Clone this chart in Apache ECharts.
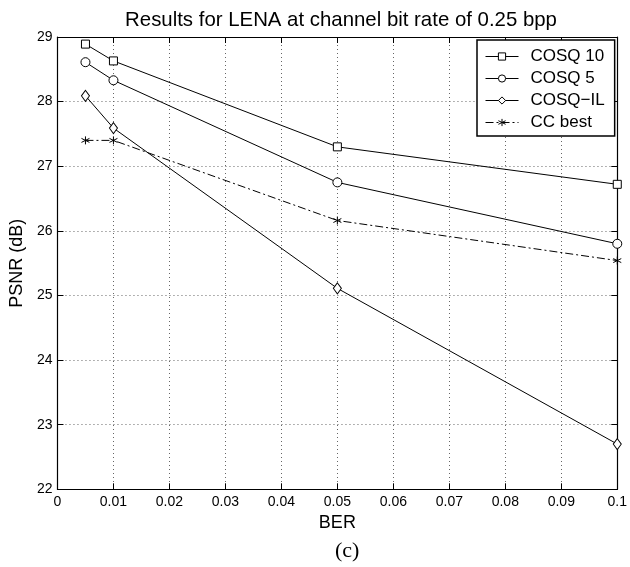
<!DOCTYPE html>
<html>
<head>
<meta charset="utf-8">
<script src="https://cdn.jsdelivr.net/npm/echarts@6/dist/echarts.min.js"></script>
<style>html,body{margin:0;padding:0;background:#fff;}#c{width:630px;height:567px;}</style>
</head>
<body>
<div id="c"></div>
<script>
var titleText = 'Results for LENA at channel bit rate of 0.25 bpp';
var xName = 'BER';
var yName = 'PSNR (dB)';
var caption = '(c)';
var ber = [0.005, 0.01, 0.05, 0.1];
var cosq10 = [28.89, 28.63, 27.30, 26.72];
var cosq5 = [28.61, 28.33, 26.75, 25.80];
var cosqIL = [28.09, 27.59, 25.11, 22.70];
var ccBest = [27.40, 27.40, 26.16, 25.54];
var seriesNames = ['COSQ 10', 'COSQ 5', 'COSQ\u2212IL', 'CC best'];
var xTickLabels = ['0', '0.01', '0.02', '0.03', '0.04', '0.05', '0.06', '0.07', '0.08', '0.09', '0.1'];
var yTickLabels = ['22', '23', '24', '25', '26', '27', '28', '29'];

function pairs(ys) { return ber.map(function (x, i) { return [x, ys[i]]; }); }

var FONT = 'Liberation Sans';
var star = 'path://M0,-5L0,5M-4.33,-2.5L4.33,2.5M-4.33,2.5L4.33,-2.5';

var chart = echarts.init(document.getElementById('c'), null, { renderer: 'canvas' });

function xAxisBase(pos, show) {
  return {
    type: 'value', position: pos, min: 0, max: 0.1, interval: 0.01,
    axisLine: { show: true, onZero: false, lineStyle: { color: '#000', width: 1.2 } },
    axisTick: { show: true, inside: true, length: 6, lineStyle: { color: '#000', width: 1 } },
    axisLabel: {
      show: show, color: '#000', fontFamily: FONT, fontSize: 14, margin: 6,
      formatter: function (v) { return xTickLabels[Math.round(v / 0.01)]; }
    },
    splitLine: { show: show, lineStyle: { color: '#666', type: [1, 3], width: 1 } }
  };
}
function yAxisBase(pos, show) {
  return {
    type: 'value', position: pos, min: 22, max: 29, interval: 1,
    axisLine: { show: true, onZero: false, lineStyle: { color: '#000', width: 1.2 } },
    axisTick: { show: true, inside: true, length: 6, lineStyle: { color: '#000', width: 1 } },
    axisLabel: {
      show: show, color: '#000', fontFamily: FONT, fontSize: 14, margin: 5,
      formatter: function (v) { return yTickLabels[Math.round(v - 22)]; }
    },
    splitLine: { show: show, lineStyle: { color: '#666', type: [1, 3], width: 1 } }
  };
}

var xa = xAxisBase('bottom', true);
xa.name = xName; xa.nameLocation = 'middle'; xa.nameGap = 20;
xa.nameTextStyle = { color: '#000', fontFamily: FONT, fontSize: 18 };
var xb = xAxisBase('top', false);
var ya = yAxisBase('left', true);
ya.name = yName; ya.nameLocation = 'middle'; ya.nameGap = 21;
ya.nameTextStyle = { color: '#000', fontFamily: FONT, fontSize: 18 };
var yb = yAxisBase('right', false);

function mk(name, ys, symbol, size, dash) {
  var isStar = symbol === star;
  return {
    name: name, type: 'line', data: pairs(ys), xAxisIndex: 0, yAxisIndex: 0,
    symbol: symbol, symbolSize: size, showSymbol: true, clip: true,
    lineStyle: { color: '#000', width: 1, type: dash || 'solid' },
    itemStyle: { color: isStar ? '#000' : '#fff', borderColor: '#000', borderWidth: 1 },
    emphasis: { disabled: true }, animation: false
  };
}

chart.setOption({
  animation: false,
  backgroundColor: '#fff',
  title: {
    text: titleText, left: 336, top: 5, textAlign: 'center',
    textStyle: { color: '#000', fontFamily: FONT, fontSize: 20.4, fontWeight: 'normal' }
  },
  grid: { left: 49.5, right: 12, top: 37, bottom: 77.7, containLabel: false },
  xAxis: [xa, xb],
  yAxis: [ya, yb],
  legend: {
    orient: 'vertical', left: 477, top: 40,
    backgroundColor: '#fff', borderColor: '#000', borderWidth: 1.5,
    padding: [8, 10, 5, 8],
    itemWidth: 33, itemHeight: 9, itemGap: 5,
    lineStyle: { width: 1 },
    itemStyle: { borderWidth: 1, borderColor: '#000' },
    textStyle: { color: '#000', fontFamily: FONT, fontSize: 17, padding: [0, 0, 0, 7] },
    data: seriesNames
  },
  graphic: [{
    type: 'text', left: 335, top: 540,
    style: { text: caption, fill: '#000', font: '22px "Liberation Serif"', textAlign: 'center' }
  }],
  series: [
    mk(seriesNames[0], cosq10, 'rect', 8),
    mk(seriesNames[1], cosq5, 'circle', 9),
    mk(seriesNames[2], cosqIL, 'diamond', [8, 11]),
    mk(seriesNames[3], ccBest, star, 8, [8, 3, 2, 3])
  ]
});
</script>
</body>
</html>
